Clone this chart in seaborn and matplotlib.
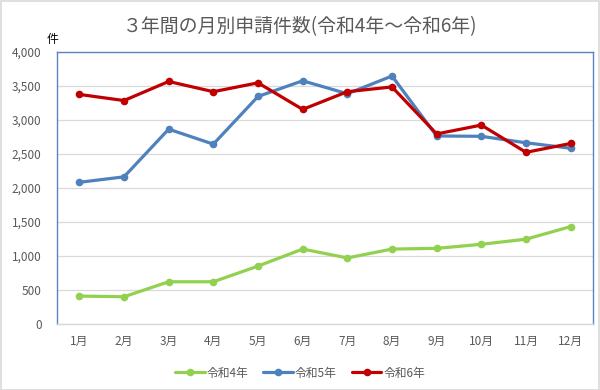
import pandas as pd
import matplotlib
matplotlib.use("Agg")
import matplotlib.pyplot as plt
import seaborn as sns
from matplotlib.patches import Rectangle

# ---------- DATA ----------
MONTHS = ["1月", "2月", "3月", "4月", "5月", "6月",
          "7月", "8月", "9月", "10月", "11月", "12月"]
R4 = [410, 400, 620, 620, 850, 1100, 970, 1100, 1110, 1170, 1245, 1430]
R5 = [2080, 2160, 2860, 2640, 3340, 3570, 3380, 3640, 2760, 2755, 2660, 2580]
R6 = [3370, 3280, 3560, 3410, 3540, 3150, 3410, 3480, 2790, 2920, 2520, 2650]
SERIES = ["令和4年", "令和5年", "令和6年"]
COLORS = ["#92D050", "#4F81BD", "#C00000"]
Y_TICKS = [0, 500, 1000, 1500, 2000, 2500, 3000, 3500, 4000]
# --------------------------

sns.set_theme(style="white")
plt.rcParams["font.family"] = ["Noto Sans CJK JP", "DejaVu Sans"]

rows = []
for name, vals in zip(SERIES, [R4, R5, R6]):
    for i, v in enumerate(vals):
        rows.append(dict(month=i, count=v, series=name))
df = pd.DataFrame(rows)

fig = plt.figure(figsize=(6, 3.9), dpi=100)
ax = fig.add_axes([57 / 600, 1 - 324 / 390, (593 - 57) / 600, (324 - 51.5) / 390])

sns.lineplot(data=df, x="month", y="count", hue="series", hue_order=SERIES,
             palette=COLORS, marker="o", markersize=5.5, markeredgewidth=0,
             linewidth=2.3, ax=ax, legend=True)

ax.set_xlim(-0.5, len(MONTHS) - 0.5)
ax.set_ylim(0, 4000)
ax.set_xticks(range(len(MONTHS)))
ax.set_xticklabels(MONTHS)
ax.set_yticks(Y_TICKS)
ax.set_yticklabels([f"{t:,}" for t in Y_TICKS])
ax.tick_params(axis="both", length=0, labelsize=8.5, colors="#595959")
ax.tick_params(axis="y", pad=11)
ax.tick_params(axis="x", pad=8)
ax.set_xlabel("")
ax.set_ylabel("")
ax.yaxis.grid(True, color="#D9D9D9", linewidth=0.9)
ax.set_axisbelow(True)

for side in ["left", "top", "right"]:
    ax.spines[side].set_color("#5B84C0")
    ax.spines[side].set_linewidth(1.0)
ax.spines["bottom"].set_color("#D9D9D9")
ax.spines["bottom"].set_linewidth(1.0)

fig.text(0.5, 1 - 27 / 390, "３年間の月別申請件数(令和4年～令和6年)",
         ha="center", va="center", fontsize=13.6, color="#595959")
fig.text(52 / 600, 1 - 39 / 390, "件", ha="center", va="center",
         fontsize=8.5, color="#000000")

handles, labels = ax.get_legend_handles_labels()
ax.legend(handles, labels, loc="center", bbox_to_anchor=(0.5, 1 - 373 / 390),
          bbox_transform=fig.transFigure, ncol=3, frameon=False,
          fontsize=8.5, handlelength=2.5, handletextpad=0.15,
          columnspacing=1.3, labelcolor="#595959")

fig.patches.append(Rectangle((0.001, 0.001), 0.997, 0.997, transform=fig.transFigure,
                             fill=False, edgecolor="#D9D9D9", linewidth=1.2))

fig.savefig("out.png", dpi=100, facecolor="white")
